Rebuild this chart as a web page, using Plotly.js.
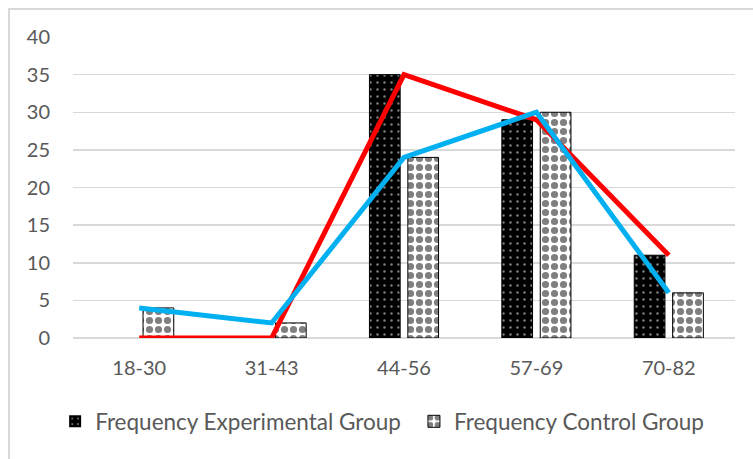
<!DOCTYPE html>
<html>
<head>
<meta charset="utf-8">
<script src="https://cdn.plot.ly/plotly-3.0.1.min.js"></script>
<style>
  html, body { margin: 0; padding: 0; background: #ffffff; }
  #wrap { position: relative; width: 753px; height: 459px; overflow: hidden; background: #ffffff; }
  #frame { position: absolute; left: 8px; top: 8px; width: 800px; height: 500px;
           border-left: 2px solid #d9d9d9; border-top: 2px solid #d9d9d9; box-sizing: border-box; }
  #chart { position: absolute; left: 0; top: 0; width: 753px; height: 459px; }
</style>
</head>
<body>
<div id="wrap">
  <div id="frame"></div>
  <div id="chart"></div>
</div>
<script>
const categories = ["18-30", "31-43", "44-56", "57-69", "70-82"];
const experimental = [0, 0, 35, 29, 11];
const control = [4, 2, 24, 30, 6];
const seriesNames = ["Frequency Experimental Group", "Frequency Control Group"];
const yTicks = [0, 5, 10, 15, 20, 25, 30, 35, 40];

const tickFont = { family: "Lato, 'Open Sans', sans-serif", size: 20, color: "#595959" };
const legendFont = { family: "Lato, 'Open Sans', sans-serif", size: 22.5, color: "#595959" };
const outline = vals => vals.map(v => (v > 0 ? 1 : 0));

const traces = [
  {
    type: "bar", x: categories, y: experimental, name: seriesNames[0], legend: "legend",
    marker: {
      color: "#000000",
      line: { color: "#000000", width: outline(experimental) },
      pattern: { shape: ".", bgcolor: "#000000", fgcolor: "#ffffff", size: 7, solidity: 0.1, fillmode: "overlay" }
    },
    hoverinfo: "skip"
  },
  {
    type: "bar", x: categories, y: control, name: seriesNames[1], legend: "legend2",
    marker: {
      color: "#ffffff",
      line: { color: "#000000", width: outline(control) },
      pattern: { shape: ".", bgcolor: "#ffffff", fgcolor: "#000000", size: 9, solidity: 0.5, fillmode: "overlay" }
    },
    hoverinfo: "skip"
  },
  {
    type: "scatter", mode: "lines", x: categories, y: experimental, name: seriesNames[0] + " line",
    line: { color: "#ff0000", width: 5 }, showlegend: false, hoverinfo: "skip"
  },
  {
    type: "scatter", mode: "lines", x: categories, y: control, name: seriesNames[1] + " line",
    line: { color: "#00b0f0", width: 5 }, showlegend: false, hoverinfo: "skip"
  }
];

const layout = {
  width: 753, height: 459,
  margin: { l: 73, r: 18, t: 37, b: 121, pad: 0 },
  paper_bgcolor: "rgba(0,0,0,0)",
  plot_bgcolor: "rgba(0,0,0,0)",
  barmode: "group",
  bargap: 0.42,
  bargroupgap: 0.2,
  showlegend: true,
  legend: {
    orientation: "h", x: -0.027, xanchor: "left", y: -0.278, yanchor: "middle",
    font: legendFont, bgcolor: "rgba(0,0,0,0)"
  },
  legend2: {
    orientation: "h", x: 0.515, xanchor: "left", y: -0.278, yanchor: "middle",
    font: legendFont, bgcolor: "rgba(0,0,0,0)"
  },
  xaxis: {
    type: "category", categoryarray: categories,
    showgrid: false, zeroline: false, showline: false,
    ticks: "outside", ticklen: 12, tickcolor: "rgba(0,0,0,0)",
    tickfont: tickFont, fixedrange: true
  },
  yaxis: {
    range: [0, 40], tickvals: yTicks, ticktext: yTicks.map(String),
    showgrid: true, gridcolor: "#d9d9d9", gridwidth: 1.5,
    zeroline: true, zerolinecolor: "#d9d9d9", zerolinewidth: 1.5,
    showline: false,
    ticks: "outside", ticklen: 18, tickcolor: "rgba(0,0,0,0)",
    tickfont: tickFont, fixedrange: true
  }
};

Plotly.newPlot("chart", traces, layout, { staticPlot: true, displayModeBar: false });
</script>
</body>
</html>
